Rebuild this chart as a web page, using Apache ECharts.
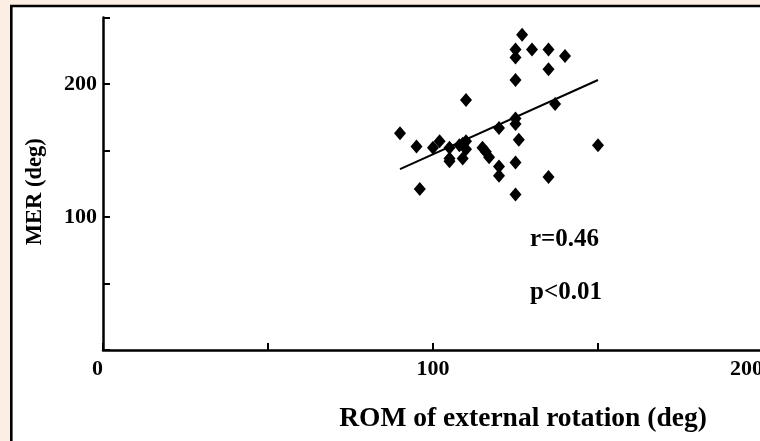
<!DOCTYPE html>
<html><head><meta charset="utf-8">
<script src="https://cdn.jsdelivr.net/npm/echarts@6/dist/echarts.min.js"></script>
<style>html,body{margin:0;padding:0;background:#fdeee3;overflow:hidden}#c{width:760px;height:441px}</style>
</head><body><div id="c"></div>
<script>
const romX = [127,125,125,130,135,140,135,125,110,137,150,90,95,100,102,105,105,105,108,110,110,109,115,116,117,120,120,120,125,125,126,125,125,135,96,109];
const merY = [237,226,220,226,226,221,211,203,188,185,154,163,153,152,157,152,142,144,154,157,151,144,152,149,145,167,138,131,174,170,158,141,117,130,121,155];
const fitX = [90,150];
const fitY = [136,203];
const xLabelTicks = [0,100,200];
const yLabelTicks = [100,200];
const statTexts = ['r=0.46','p<0.01'];
const xTitle = 'ROM of external rotation (deg)';
const yTitle = 'MER (deg)';

const FONT = '"Liberation Serif","Times New Roman",serif';
const chart = echarts.init(document.getElementById('c'), null, {renderer:'canvas'});
const points = romX.map((x,i)=>[x, merY[i]]);
const fit = fitX.map((x,i)=>[x, fitY[i]]);
chart.setOption({
  backgroundColor: '#fdeee3',
  animation: false,
  graphic: [
    {type:'rect', z:-10, shape:{x:11.3,y:6,width:820,height:520}, style:{fill:'#ffffff',stroke:'#000',lineWidth:2.6}},
    {type:'text', left:530, top:227, style:{text:statTexts[0], font:'bold 25px '+FONT, fill:'#000'}},
    {type:'text', left:530, top:280, style:{text:statTexts[1], font:'bold 25px '+FONT, fill:'#000'}}
  ],
  grid: {left:103, top:17.5, width:660, height:332.5, containLabel:false, outerBoundsMode:'none'},
  xAxis: {
    type:'value', min:0, max:200, interval:50,
    splitLine:{show:false},
    axisLine:{show:true, onZero:false, lineStyle:{color:'#000', width:2.5}},
    axisTick:{show:true, inside:true, length:7, lineStyle:{color:'#000', width:2}},
    axisLabel:{
      color:'#000', fontFamily:FONT, fontWeight:'bold', fontSize:22, margin:8,
      alignMinLabel:'right', alignMaxLabel:'right',
      formatter: v => xLabelTicks.includes(v) ? String(v) : ''
    },
    name: xTitle, nameLocation:'middle', nameGap:55,
    nameTextStyle:{color:'#000', fontFamily:FONT, fontWeight:'bold', fontSize:27.5, padding:[0,0,0,180]}
  },
  yAxis: {
    type:'value', min:0, max:250, interval:50,
    splitLine:{show:false},
    axisLine:{show:true, onZero:false, lineStyle:{color:'#000', width:2.5}},
    axisTick:{show:true, inside:true, length:7, lineStyle:{color:'#000', width:2}},
    axisLabel:{
      color:'#000', fontFamily:FONT, fontWeight:'bold', fontSize:22, margin:6,
      formatter: v => yLabelTicks.includes(v) ? String(v) : ''
    },
    name: yTitle, nameLocation:'middle', nameGap:56, nameRotate:90,
    nameTextStyle:{color:'#000', fontFamily:FONT, fontWeight:'bold', fontSize:22.5, padding:[0,16,0,0]}
  },
  series: [
    {type:'line', data:fit, symbol:'none', lineStyle:{color:'#000', width:2}, z:2},
    {type:'scatter', data:points, symbol:'diamond', symbolSize:[12,14], itemStyle:{color:'#000', opacity:1}, z:3}
  ]
});
</script></body></html>
